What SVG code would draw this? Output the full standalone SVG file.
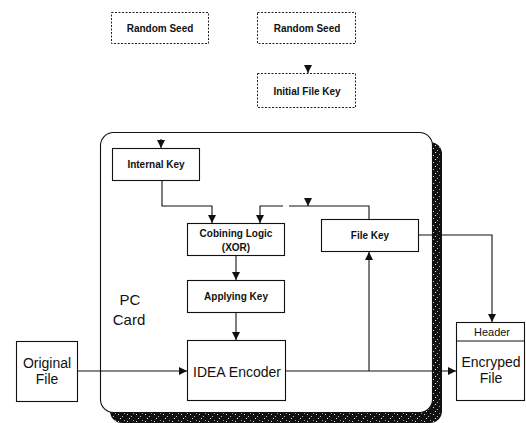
<svg xmlns="http://www.w3.org/2000/svg" width="526" height="423" viewBox="0 0 526 423">
<defs>
<marker id="ah" viewBox="0 0 10 10" refX="10" refY="5" markerWidth="8" markerHeight="8" markerUnits="userSpaceOnUse" orient="auto">
<path d="M0,0 L10,5 L0,10 z" fill="#111"/>
</marker>
<pattern id="speck" width="9" height="7" patternUnits="userSpaceOnUse">
<rect width="9" height="7" fill="#111"/>
<rect x="1" y="1" width="1" height="1" fill="#ddd"/>
<rect x="5" y="3" width="1" height="1" fill="#bbb"/>
<rect x="3" y="5" width="1" height="1" fill="#eee"/>
<rect x="7" y="0" width="1" height="1" fill="#999"/>
</pattern>
<style>
.box{fill:#fff;stroke:#111;stroke-width:1.1}
.dot{fill:#fff;stroke:#222;stroke-width:1;stroke-dasharray:2,1.5}
.sm{font-family:"Liberation Sans",Arial,sans-serif;font-size:10px;font-weight:bold;fill:#111;text-anchor:middle}
.hd{font-family:"Liberation Sans",Arial,sans-serif;font-size:11px;fill:#111;text-anchor:middle}
.lg{font-family:"Liberation Sans",Arial,sans-serif;font-size:14px;fill:#111;text-anchor:middle}
.pc{font-family:"Liberation Sans",Arial,sans-serif;font-size:15px;fill:#111;text-anchor:middle}
.ln{fill:none;stroke:#111;stroke-width:1.1}
</style>
</defs>

<g id="pc-card">
<rect x="110" y="142" width="332" height="281" rx="12" fill="url(#speck)"/>
<rect x="100.5" y="132.5" width="332" height="280" rx="13" class="box" stroke-width="1.3"/>
<text x="130" y="305" class="pc">PC</text>
<text x="129" y="325" class="pc">Card</text>
</g>

<g id="random-seed-1">
<rect x="111.5" y="12.5" width="97" height="31" class="dot"/>
<text x="160" y="32" class="sm">Random Seed</text>
</g>
<g id="random-seed-2">
<rect x="257.5" y="12.5" width="98" height="31" class="dot"/>
<text x="307" y="32" class="sm">Random Seed</text>
</g>
<g id="initial-file-key">
<rect x="257.5" y="73.5" width="98" height="34" class="dot"/>
<text x="307" y="95" class="sm">Initial File Key</text>
</g>
<g id="internal-key">
<rect x="112.5" y="148.5" width="87" height="32" class="box"/>
<text x="156" y="168" class="sm">Internal Key</text>
</g>
<g id="combining-logic">
<rect x="187.5" y="223.5" width="97" height="32" class="box"/>
<text x="236" y="237" class="sm">Cobining Logic</text>
<text x="236" y="251" class="sm">(XOR)</text>
</g>
<g id="file-key">
<rect x="321.5" y="219.5" width="97" height="32" class="box"/>
<text x="370" y="239" class="sm">File Key</text>
</g>
<g id="applying-key">
<rect x="187.5" y="280.5" width="97" height="32" class="box"/>
<text x="236" y="300" class="sm">Applying Key</text>
</g>
<g id="idea-encoder">
<rect x="187.5" y="340.5" width="98" height="60" class="box"/>
<text x="237" y="377" class="lg">IDEA Encoder</text>
</g>
<g id="original-file">
<rect x="16.5" y="341.5" width="61" height="60" class="box"/>
<text x="47" y="368" class="lg">Original</text>
<text x="47" y="384" class="lg">File</text>
</g>
<g id="encrypted-file">
<rect x="456.5" y="322.5" width="68" height="78" class="box"/>
<line x1="456.5" y1="341" x2="524.5" y2="341" class="ln"/>
<text x="492" y="336" class="hd">Header</text>
<text x="491" y="367" class="lg">Encryped</text>
<text x="491" y="383" class="lg">File</text>
</g>

<g id="connectors">
<path d="M308 65 V73" class="ln" marker-end="url(#ah)"/>
<path d="M161 139 V148" class="ln" marker-end="url(#ah)"/>
<path d="M308 198 V206" class="ln" marker-end="url(#ah)"/>
<path d="M162 181 V206 H212 V223" class="ln" marker-end="url(#ah)"/>
<path d="M369 219 V206 H289" class="ln"/>
<path d="M283 206 H260 V223" class="ln" marker-end="url(#ah)"/>
<path d="M236 256 V280" class="ln" marker-end="url(#ah)"/>
<path d="M236 313 V340" class="ln" marker-end="url(#ah)"/>
<path d="M78 371 H187" class="ln" marker-end="url(#ah)"/>
<path d="M286 371 H456" class="ln" marker-end="url(#ah)"/>
<path d="M369 371 V252" class="ln" marker-end="url(#ah)"/>
<path d="M419 235 H492 V322" class="ln" marker-end="url(#ah)"/>
</g>
</svg>
